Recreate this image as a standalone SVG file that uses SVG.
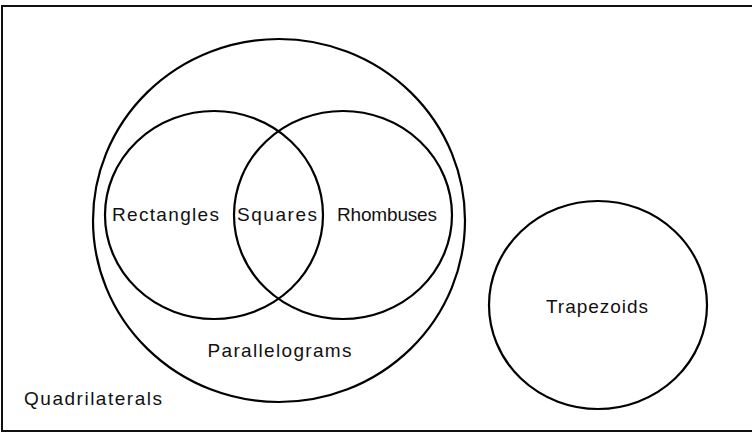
<svg xmlns="http://www.w3.org/2000/svg" width="752" height="433" viewBox="0 0 752 433">
<style>
.shape{fill:none;stroke:#000;stroke-width:2.2}
.frame{fill:none;stroke:#111;stroke-width:2}
.lbl{font-family:"Liberation Sans",Arial,Helvetica,sans-serif;font-size:19px;fill:#111}
</style>
<rect width="752" height="433" fill="#fff"/>
<g id="quadrilaterals">
<rect class="frame" x="2" y="6" width="760" height="425"/>
<text class="lbl" x="24" y="405" textLength="138" lengthAdjust="spacing">Quadrilaterals</text>
</g>
<g id="parallelograms">
<ellipse class="shape" cx="279" cy="220.5" rx="186" ry="181.5"/>
<text class="lbl" x="207.5" y="357" textLength="144" lengthAdjust="spacing">Parallelograms</text>
</g>
<g id="rectangles">
<ellipse class="shape" cx="214" cy="215" rx="109" ry="104"/>
<text class="lbl" x="112" y="221" textLength="107" lengthAdjust="spacing">Rectangles</text>
</g>
<g id="rhombuses">
<ellipse class="shape" cx="343" cy="215" rx="109" ry="104"/>
<text class="lbl" x="337" y="221" textLength="100" lengthAdjust="spacing">Rhombuses</text>
</g>
<g id="squares">
<text class="lbl" x="237" y="221" textLength="80" lengthAdjust="spacing">Squares</text>
</g>
<g id="trapezoids">
<ellipse class="shape" cx="598" cy="305" rx="109" ry="104"/>
<text class="lbl" x="546" y="313" textLength="102" lengthAdjust="spacing">Trapezoids</text>
</g>
<g id="connectors"></g>
</svg>
